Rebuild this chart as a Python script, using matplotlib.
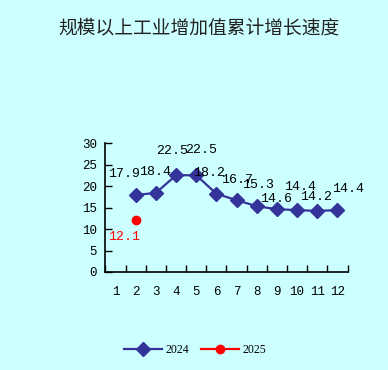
import matplotlib
matplotlib.use("Agg")
import matplotlib.pyplot as plt
import numpy as np

title = "规模以上工业增加值累计增长速度"
months = [1, 2, 3, 4, 5, 6, 7, 8, 9, 10, 11, 12]
s2024 = [np.nan, 17.9, 18.4, 22.5, 22.5, 18.2, 16.7, 15.3, 14.6, 14.4, 14.2, 14.4]
s2025 = [np.nan, 12.1, np.nan, np.nan, np.nan, np.nan, np.nan, np.nan, np.nan, np.nan, np.nan, np.nan]
labels2024 = ["", "17.9", "18.4", "22.5", "22.5", "18.2", "16.7", "15.3", "14.6", "14.4", "14.2", "14.4"]
labels2025 = ["", "12.1"] + [""] * 10
yticks = [0, 5, 10, 15, 20, 25, 30]

# label offsets in pixels (styling)
off2024 = [(0, 0), (-12, 21), (-1, 21), (-4, 24), (5, 25), (-7, 21), (0, 20),
           (1, 21), (-1, 10), (3, 23), (-1, 14), (11, 21)]
off2025 = [(0, 0), (-12, -17)] + [(0, 0)] * 10

bg = "#CCFFFF"
blue = "#333399"
num_font = "Liberation Mono"

fig = plt.figure(figsize=(3.88, 3.70), dpi=100, facecolor=bg)
ax = fig.add_axes([105.5 / 388, 98 / 370, 242 / 388, 129 / 370])
ax.set_facecolor(bg)

x = np.array(months)
l1, = ax.plot(x, s2024, color=blue, lw=1.6, marker="D", markersize=7,
              markerfacecolor=blue, markeredgecolor=blue, label="2024")
l2, = ax.plot(x, s2025, color="#FF0000", lw=1.6, marker="o", markersize=6,
              markerfacecolor="#FF0000", markeredgecolor="#FF0000", label="2025")

for xi, v, t, o in zip(x, s2024, labels2024, off2024):
    if t:
        ax.annotate(t, (xi, v), xytext=o, textcoords="offset pixels",
                    ha="center", va="center", fontsize=9.5, family=num_font, color="black")
for xi, v, t, o in zip(x, s2025, labels2025, off2025):
    if t:
        ax.annotate(t, (xi, v), xytext=o, textcoords="offset pixels",
                    ha="center", va="center", fontsize=9.5, family=num_font, color="#FF0000")

ax.set_xlim(0.5, 12.5)
ax.set_ylim(0, 30)
ax.set_yticks(yticks)
ax.set_yticklabels([str(t) for t in yticks], family=num_font, fontsize=9)
ax.set_xticks(np.arange(0.5, 13, 1))
ax.set_xticklabels([])
ax.set_xticks(x, minor=True)
ax.set_xticklabels([str(m) for m in months], minor=True, family=num_font, fontsize=9)
ax.tick_params(axis="x", which="major", direction="in", length=5, width=1, color="black")
ax.tick_params(axis="x", which="minor", length=0, pad=10)
ax.tick_params(axis="y", direction="in", length=5, width=1, pad=6)
for s in ["top", "right"]:
    ax.spines[s].set_visible(False)
for s in ["left", "bottom"]:
    ax.spines[s].set_linewidth(1.2)

fig.text(199 / 388, 1 - 28 / 370, title, ha="center", va="center", fontsize=13.5,
         family=["Noto Sans CJK SC", "DejaVu Sans"], color="#222222")

leg = fig.legend(handles=[l1, l2], loc="center", bbox_to_anchor=(195 / 388, 1 - 350 / 370),
                 ncol=2, frameon=False, handlelength=3.2, columnspacing=1.0,
                 handletextpad=0.3, prop={"family": "Liberation Serif", "size": 8.5})

fig.savefig("out.png", dpi=100, facecolor=bg)
